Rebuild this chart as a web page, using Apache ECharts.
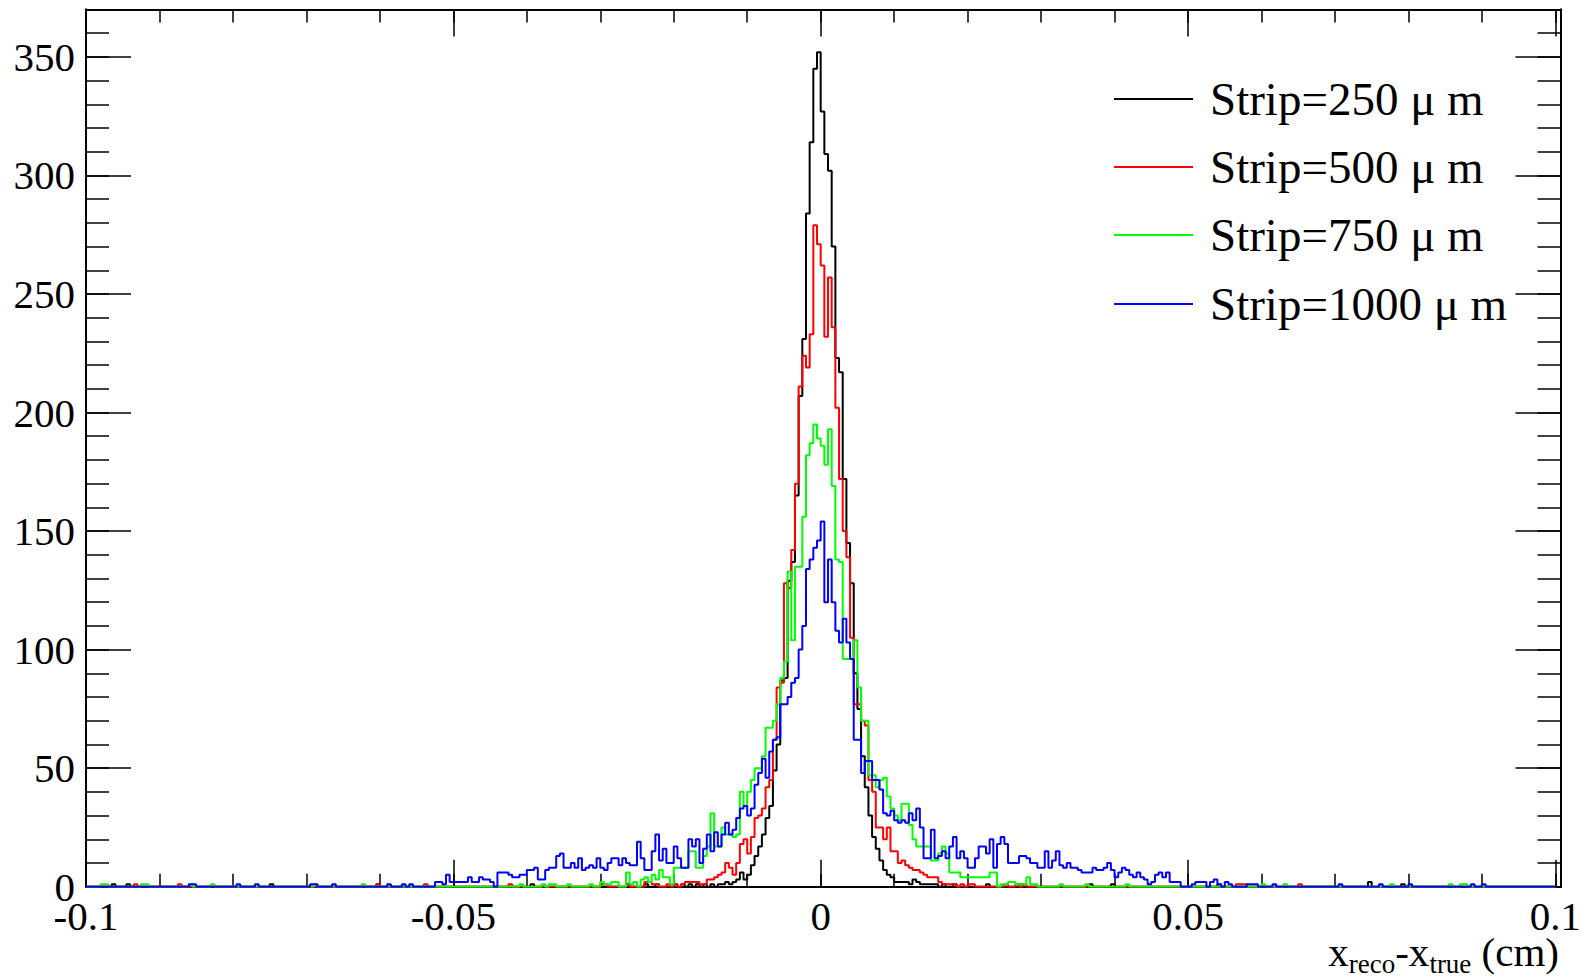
<!DOCTYPE html>
<html><head><meta charset="utf-8">
<script src="https://cdn.jsdelivr.net/npm/echarts@6/dist/echarts.min.js"></script>
<style>html,body{margin:0;padding:0;background:#fff}#c{width:1593px;height:979px}</style>
</head><body><div id="c"></div>
<script>
// Histogram binning: 400 bins from -0.1 to 0.1 cm
const X_MIN = -0.1, X_MAX = 0.1, BIN_WIDTH = 0.0005;
const X_FRAME_MAX = 0.1007;   // frame extends slightly past the last bin
const seriesNames = ['Strip=250 \u03bc m', 'Strip=500 \u03bc m', 'Strip=750 \u03bc m', 'Strip=1000 \u03bc m'];
const seriesColors = ['#000000', '#ff0000', '#00ff00', '#0000ff'];
const xTickLabels = ['-0.1', '-0.05', '0', '0.05', '0.1'];
const yTickLabels = ['0', '50', '100', '150', '200', '250', '300', '350'];

const counts250 = [
0,0,0,0,0,0,0,1,0,0,0,1,0,0,0,0,0,0,0,0,
0,0,0,0,0,0,0,0,0,0,0,0,0,0,0,0,0,0,0,0,
0,0,0,0,0,0,0,0,0,0,1,0,0,0,0,0,0,0,0,0,
0,0,0,0,0,0,0,0,0,0,0,0,0,0,0,0,0,0,0,1,
0,0,0,0,0,0,0,0,0,0,0,0,0,0,0,0,0,0,0,0,
0,0,0,0,0,0,0,0,0,0,0,0,0,0,0,0,0,0,0,0,
0,1,0,0,0,0,0,0,0,0,0,0,0,0,0,0,0,0,0,0,
0,0,0,0,0,0,0,1,0,0,0,0,1,0,0,1,0,0,0,0,
1,0,1,0,1,0,1,0,1,0,1,0,1,1,2,1,2,3,6,3,
5,9,13,17,22,29,34,49,60,87,88,129,137,165,207,231,284,314,345,352,
327,309,302,270,223,217,172,145,128,90,75,55,42,30,21,16,11,7,5,4,
2,2,2,2,1,3,2,1,1,1,1,1,0,1,0,0,1,0,0,0,
0,0,0,0,0,1,0,0,0,0,0,0,0,0,1,0,0,0,0,0,
0,0,0,0,0,0,0,0,0,0,0,0,0,1,0,0,0,0,0,1,
0,0,0,0,0,0,0,0,0,0,0,0,0,0,0,0,0,0,0,0,
0,0,0,0,0,0,0,0,1,0,0,0,0,0,0,0,0,0,0,0,
0,0,0,0,0,0,0,0,0,0,0,0,0,0,0,0,0,0,0,0,
0,0,0,0,0,0,0,0,0,2,0,0,0,0,0,0,0,0,1,0,
0,0,0,0,0,0,0,0,0,0,0,0,0,0,0,0,0,0,0,0,
0,0,0,0,0,0,0,0,0,0,0,0,0,0,0,0,0,0,0,0
];

const counts500 = [
0,0,0,0,0,0,0,0,0,0,0,0,0,1,0,0,0,0,0,0,
0,0,0,0,0,1,0,0,0,0,0,0,0,0,0,0,0,0,0,0,
0,0,0,0,0,0,0,0,0,0,0,0,0,0,0,0,0,0,0,0,
0,0,0,0,0,0,0,0,0,0,0,0,0,0,0,0,0,0,0,1,
0,0,0,0,0,0,0,0,0,0,0,0,1,0,0,0,0,0,0,0,
0,0,0,0,0,0,0,0,0,0,0,0,0,0,0,1,0,0,0,0,
0,0,0,0,0,0,0,0,0,0,0,0,0,0,0,0,0,0,0,0,
1,1,0,0,0,0,0,1,0,0,0,0,2,2,1,1,0,0,1,0,
1,0,1,2,2,2,2,1,1,3,3,4,5,6,10,8,5,10,18,20,
14,21,29,30,33,42,45,62,84,86,128,126,142,170,211,224,219,233,279,271,
262,232,257,236,202,172,150,139,105,77,77,70,68,45,40,25,25,20,25,15,
15,10,11,9,8,7,7,6,5,4,4,4,2,1,1,1,1,0,1,0,
1,1,0,0,0,0,0,0,0,0,1,0,0,1,0,1,0,0,0,0,
0,0,0,0,0,0,0,0,0,0,0,0,0,0,0,0,0,0,0,0,
0,0,0,0,0,0,0,0,0,0,0,0,0,0,0,0,0,0,0,0,
0,0,0,0,0,0,0,0,0,0,0,0,0,1,1,1,0,0,0,0,
0,0,0,0,0,0,0,0,0,0,1,0,0,0,0,0,0,0,0,0,
0,0,0,0,0,0,0,0,0,0,0,0,0,0,0,0,0,0,0,0,
0,0,0,0,0,0,0,0,0,0,0,0,0,0,0,0,0,0,0,0,
0,0,0,0,0,0,0,0,0,0,0,0,0,0,0,0,0,0,0,0
];

const counts750 = [
0,0,0,0,1,1,0,0,0,0,0,0,0,0,0,1,1,0,0,0,
0,0,0,0,0,0,0,0,1,0,0,0,0,0,1,0,0,0,0,0,
0,0,0,0,0,0,0,0,0,0,0,0,0,0,0,0,0,0,0,0,
0,0,1,0,0,0,0,0,0,0,0,0,0,0,0,1,0,0,0,0,
0,0,0,0,0,0,0,0,0,0,0,0,0,0,0,0,0,0,0,0,
0,0,0,0,0,0,0,0,0,0,0,0,0,0,0,0,0,0,1,0,
0,0,0,0,1,0,1,1,0,0,0,1,0,0,0,0,0,1,0,0,
2,1,1,2,2,0,0,6,1,2,0,3,4,2,5,3,7,4,4,1,
8,8,8,8,15,15,8,8,13,17,31,17,17,25,22,22,21,22,40,34,
40,45,50,50,55,67,67,70,77,88,95,133,104,135,135,156,182,187,195,189,
186,178,193,169,138,137,96,96,96,104,84,70,70,47,47,42,45,46,38,33,
30,28,35,35,26,20,17,17,17,17,11,11,14,17,14,6,6,6,4,4,
4,4,4,4,4,4,6,6,0,1,1,2,2,1,1,1,4,1,1,0,
0,0,0,0,0,1,0,0,0,0,0,0,1,0,0,0,0,0,0,0,
0,0,0,1,0,0,0,0,0,0,0,0,0,0,0,0,0,0,0,0,
0,0,0,0,0,0,0,0,0,0,0,0,0,0,0,0,0,0,0,0,
1,0,0,0,0,0,1,0,0,0,0,0,0,0,0,0,0,0,0,0,
0,0,0,0,0,0,0,0,0,0,0,0,0,0,0,1,0,0,0,0,
0,0,0,0,0,0,0,0,0,0,0,1,0,0,1,1,0,0,0,0,
0,0,0,0,0,0,0,0,0,0,0,0,0,0,0,0,0,0,0,0
];

const counts1000 = [
0,0,0,0,0,0,0,0,0,0,0,0,0,0,0,0,0,0,0,0,
0,0,0,0,0,0,0,0,1,1,0,0,0,0,0,0,0,0,0,0,
0,1,0,0,0,0,1,0,0,0,0,0,0,0,0,0,0,0,0,0,
0,1,1,0,0,0,0,1,0,0,0,0,0,0,0,0,0,0,0,0,
0,0,1,0,0,0,1,0,1,0,0,0,0,0,0,2,2,1,5,2,
2,2,2,2,4,2,2,4,3,3,2,0,6,6,6,5,4,4,5,5,
7,7,8,3,3,7,8,8,13,14,8,8,10,8,12,7,8,9,8,12,
8,7,10,12,12,9,12,10,9,9,19,12,7,7,15,22,11,16,10,10,
17,12,8,8,20,17,20,10,16,22,15,23,17,22,27,22,24,29,33,34,
30,33,43,48,54,46,57,62,63,77,77,80,86,88,100,110,134,138,143,146,
154,120,138,120,108,103,113,103,96,62,62,48,53,53,45,45,41,31,30,32,
28,27,28,27,31,28,33,25,12,12,24,12,13,15,12,17,21,12,15,12,
8,8,12,17,17,14,20,8,18,21,18,10,10,10,13,13,12,10,10,8,
8,15,8,11,15,9,8,10,8,8,7,6,6,6,8,7,7,8,10,7,
4,6,8,7,5,4,6,4,3,1,2,5,6,4,6,2,2,2,0,0,
0,1,2,2,2,0,2,3,1,0,2,1,0,0,0,0,1,1,1,0,
0,0,0,1,0,0,0,0,0,0,0,0,0,0,0,0,0,0,0,0,
0,1,0,0,0,0,0,0,0,0,0,0,1,0,0,0,0,0,0,0,
1,0,0,0,0,0,0,0,0,0,0,0,0,0,0,0,0,1,0,0,
1,0,0,0,0,0,0,0,0,0,0,0,0,0,0,0,0,0,0,0
];

const allCounts = [counts250, counts500, counts750, counts1000];

const FONT = 'Liberation Serif';
const Y_MAX = 370;

function histPoints(vals) {
  const pts = vals.map((v, i) => [X_MIN + i * BIN_WIDTH, v]);
  pts.push([X_MAX, vals[vals.length - 1]]);
  return pts;
}

function xAx(pos, interval, len, labels) {
  return {
    type: 'value', position: pos, min: X_MIN, max: X_FRAME_MAX, interval: interval,
    axisLine: { show: true, onZero: false, lineStyle: { color: '#000', width: 2 } },
    axisTick: { show: true, inside: true, length: len, lineStyle: { color: '#000', width: 1.5 } },
    axisLabel: {
      show: labels, margin: 9, color: '#000', fontFamily: FONT, fontSize: 41,
      showMaxLabel: false,
      formatter: (v) => (v <= X_MAX + 1e-9 ? (xTickLabels[Math.round((v - X_MIN) / 0.05)] || '') : '')
    },
    splitLine: { show: false }, minorTick: { show: false }
  };
}
function yAx(pos, interval, len, labels) {
  return {
    type: 'value', position: pos, min: 0, max: Y_MAX, interval: interval,
    axisLine: { show: true, onZero: false, lineStyle: { color: '#000', width: 2 } },
    axisTick: { show: true, inside: true, length: len, lineStyle: { color: '#000', width: 1.5 } },
    axisLabel: {
      show: labels, margin: 11, color: '#000', fontFamily: FONT, fontSize: 41,
      showMaxLabel: false,
      formatter: (v) => (Math.abs(v % 50) < 1e-6 ? (yTickLabels[Math.round(v / 50)] || '') : '')
    },
    splitLine: { show: false }, minorTick: { show: false }
  };
}

const legendRows = [99, 167, 235, 304];

const option = {
  animation: false,
  backgroundColor: '#ffffff',
  grid: { left: 86, right: 32.5, top: 9.5, bottom: 92.3, containLabel: false },
  xAxis: [
    xAx('bottom', 0.01, 13, false),
    xAx('bottom', 0.05, 27, true),
    xAx('top', 0.01, 13, false),
    xAx('top', 0.05, 27, false)
  ],
  yAxis: [
    yAx('left', 10, 23, false),
    yAx('left', 50, 45, true),
    yAx('right', 10, 23, false),
    yAx('right', 50, 45, false)
  ],
  legend: seriesNames.map((n, i) => ({
    data: [{ name: n, icon: 'rect' }], orient: 'vertical', left: 1114, top: legendRows[i] - 24,
    padding: 0, itemWidth: 79, itemHeight: 2, selectedMode: false,
    textStyle: { fontFamily: FONT, fontSize: 47, color: '#000', lineHeight: 48, padding: [0, 0, 0, 12] }
  })),
  series: allCounts.map((vals, i) => ({
    name: seriesNames[i], type: 'line', step: 'end', symbol: 'none',
    xAxisIndex: 0, yAxisIndex: 0,
    data: histPoints(vals),
    lineStyle: { color: seriesColors[i], width: 2 },
    itemStyle: { color: seriesColors[i] },
    clip: true
  })),
  graphic: [{
    type: 'text', right: 34, top: 931,
    style: {
      text: '{m|x}{s|reco}{m|-x}{s|true}{m| (cm)}',
      fill: '#000',
      rich: {
        m: { fontFamily: FONT, fontSize: 41, lineHeight: 46, verticalAlign: 'top', fill: '#000' },
        s: { fontFamily: FONT, fontSize: 27, lineHeight: 46, verticalAlign: 'bottom', fill: '#000' }
      }
    }
  }]
};

const chart = echarts.init(document.getElementById('c'), null, { renderer: 'svg' });
chart.setOption(option);
</script>
</body></html>
